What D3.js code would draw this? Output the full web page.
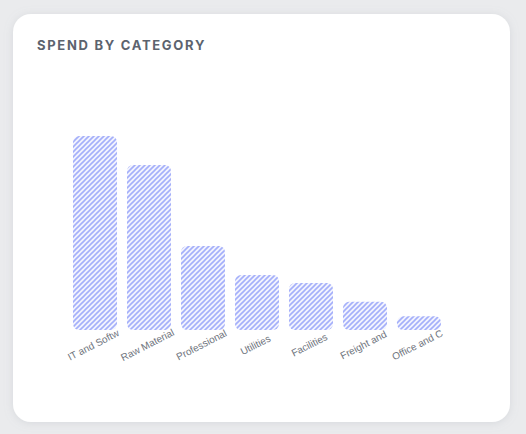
<!DOCTYPE html>
<html lang="en">
<head>
<meta charset="UTF-8">
<title>Spend by category</title>
<style>
  body { margin: 0; background: #eaebed; font-family: "Liberation Sans", Arial, sans-serif; }
  .titulo { font-family: Inter, "Liberation Sans", sans-serif; font-weight: 700; font-size: 13px;
            letter-spacing: 1.7px; fill: #5c636e; }
  .etiqueta text { font-size: 10px; fill: #70757e; }
</style>
<script src="https://cdn.jsdelivr.net/npm/d3@7"></script>
</head>
<body>
<script>
// Datos (gasto por categoria)
var categorias = ["IT and Software", "Raw Materials", "Professional Services", "Utilities",
                  "Facilities", "Freight and Logistics", "Office and Consumables"];
var gasto = [420000, 357000, 182000, 119000, 102000, 61000, 30000];

var ancho = 526, alto = 434;

var svg = d3.select("body").append("svg")
    .attr("width", ancho)
    .attr("height", alto);

var defs = svg.append("defs");

// sombra suave de la tarjeta
var sombra = defs.append("filter").attr("id", "sombra")
    .attr("x", "-10%").attr("y", "-10%").attr("width", "120%").attr("height", "120%");
sombra.append("feDropShadow")
    .attr("dx", 0).attr("dy", 1).attr("stdDeviation", 4)
    .attr("flood-color", "#9aa0aa").attr("flood-opacity", 0.25);

// patron rayado de las barras
var patron = defs.append("pattern").attr("id", "rayas")
    .attr("patternUnits", "userSpaceOnUse")
    .attr("width", 5).attr("height", 5);
patron.append("rect").attr("width", 5).attr("height", 5).attr("fill", "#f3f4ff");
patron.append("path")
    .attr("d", "M-1,1 l2,-2 M0,5 l5,-5 M4,6 l2,-2")
    .attr("stroke", "#a4affa")
    .attr("stroke-width", 1.6);

// tarjeta
svg.append("rect")
    .attr("x", 13).attr("y", 14)
    .attr("width", 497).attr("height", 408)
    .attr("rx", 18)
    .attr("fill", "#ffffff")
    .attr("filter", "url(#sombra)");

svg.append("text")
    .attr("class", "titulo")
    .attr("x", 37).attr("y", 50)
    .text("SPEND BY CATEGORY");

// escalas
var escala_x = d3.scaleBand()
    .domain(categorias)
    .range([73, 441])
    .paddingInner(0.185)
    .paddingOuter(0);

var escala_y = d3.scaleLinear()
    .domain([0, d3.max(gasto)])
    .range([330, 136]);

var datos = categorias.map(function(c, i) { return {cat: c, valor: gasto[i]}; });

svg.append("g").selectAll("rect")
    .data(datos)
    .join("rect")
    .attr("x", function(d) { return escala_x(d.cat); })
    .attr("y", function(d) { return escala_y(d.valor); })
    .attr("width", escala_x.bandwidth())
    .attr("height", function(d) { return escala_y(0) - escala_y(d.valor); })
    .attr("rx", 6)
    .attr("fill", "url(#rayas)");

// eje x con etiquetas recortadas a 12 caracteres
var eje_x = d3.axisBottom(escala_x)
    .tickSize(0)
    .tickFormat(function(d) { return d.slice(0, 12); });

var g_eje = svg.append("g")
    .attr("class", "etiqueta")
    .attr("transform", "translate(0," + escala_y(0) + ")")
    .call(eje_x);

g_eje.select(".domain").remove();
g_eje.selectAll("text")
    .attr("font-family", null)
    .attr("font-size", null)
    .attr("fill", null)
    .attr("y", 0).attr("dy", 0)
    .attr("text-anchor", "middle")
    .attr("transform", "translate(0,18) rotate(-27)");
</script>
</body>
</html>
